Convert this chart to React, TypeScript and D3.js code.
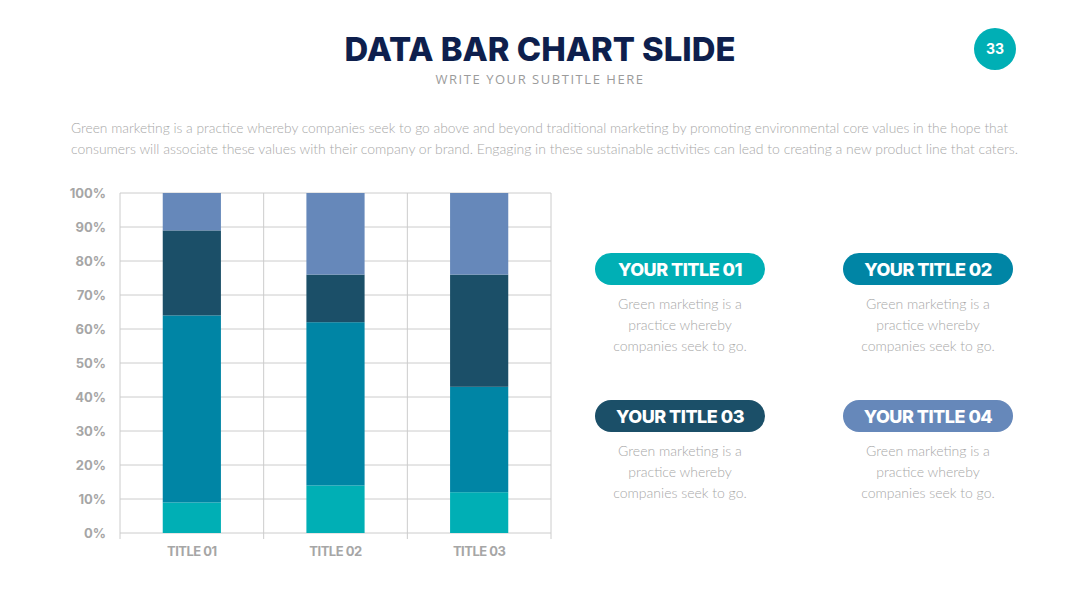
import React from "react";
import * as d3 from "d3";

const categories = ["TITLE 01", "TITLE 02", "TITLE 03"];
const seriesNames = ["YOUR TITLE 01", "YOUR TITLE 02", "YOUR TITLE 03", "YOUR TITLE 04"];
const series1 = [9, 14, 12];
const series2 = [55, 48, 31];
const series3 = [25, 14, 33];
const series4 = [11, 24, 24];
const yTicks = [0, 10, 20, 30, 40, 50, 60, 70, 80, 90, 100];
const colors = ["#00AFB5", "#0085A5", "#1B4F68", "#6688BA"];
const descLines = ["Green marketing is a", "practice whereby", "companies seek to go."];
const paragraph = [
  "Green marketing is a practice whereby companies seek to go above and beyond traditional marketing by promoting environmental core values in the hope that",
  "consumers will associate these values with their company or brand. Engaging in these sustainable activities can lead to creating a new product line that caters.",
];

export default function App() {
  const W = 1080, H = 608;
  const left = 120, right = 551, top = 193, bottom = 533;
  const x = d3.scaleBand<string>().domain(categories).range([left, right]).padding(0);
  const y = d3.scaleLinear().domain([0, 100]).range([bottom, top]);
  const rows = categories.map((c, i) => ({
    cat: c,
    s0: series1[i],
    s1: series2[i],
    s2: series3[i],
    s3: series4[i],
  }));
  const stack = d3.stack<any>().keys(["s0", "s1", "s2", "s3"]);
  const stacked = stack(rows);
  const barW = x.bandwidth() * 0.405;
  const boundaries = [left, ...categories.map((c) => (x(c) as number) + x.bandwidth())];

  const pills = [
    { cx: 680, cy: 269 },
    { cx: 928, cy: 269 },
    { cx: 680, cy: 416 },
    { cx: 928, cy: 416 },
  ];

  return (
    <svg width={W} height={H} style={{ position: "absolute", left: 0, top: 0, background: "#fff" }}>
      <rect width={W} height={H} fill="#fff" />
      {/* Title */}
      <text x={540} y={61} textAnchor="middle" fontFamily="Inter, 'Open Sans', sans-serif" fontWeight={800}
        fontSize={33} fill="#0E1F4D" textLength={391} lengthAdjust="spacingAndGlyphs">DATA BAR CHART SLIDE</text>
      <text x={540} y={84} textAnchor="middle" fontFamily="'Open Sans', Lato, sans-serif" fontSize={13}
        fill="#9B9B9B" letterSpacing={1.5} textLength={209} lengthAdjust="spacing">WRITE YOUR SUBTITLE HERE</text>
      <circle cx={995} cy={49} r={21} fill="#00AFB5" />
      <text x={995} y={54} textAnchor="middle" fontFamily="Inter, sans-serif" fontWeight={700} fontSize={14} fill="#fff">33</text>

      {/* Paragraph */}
      {paragraph.map((t, i) => (
        <text key={i} x={71} y={133 + i * 21} fontFamily="Lato, 'Open Sans', sans-serif" fontWeight={300}
          fontSize={13.5} fill="#A8A8A8" textLength={i === 0 ? 937 : 947} lengthAdjust="spacingAndGlyphs">{t}</text>
      ))}

      {/* Grid */}
      {yTicks.map((t) => (
        <line key={t} x1={left} x2={right} y1={y(t)} y2={y(t)} stroke="#CCCCCC" strokeWidth={1} />
      ))}
      {boundaries.map((b, i) => (
        <line key={i} x1={b} x2={b} y1={top} y2={bottom + 6} stroke="#CCCCCC" strokeWidth={1} />
      ))}
      {yTicks.map((t) => (
        <text key={t} x={106} y={y(t) + 4.5} textAnchor="end" fontFamily="Inter, sans-serif" fontWeight={700}
          fontSize={13} fill="#A6A6A6">{t + "%"}</text>
      ))}

      {/* Bars */}
      {stacked.map((layer, li) =>
        layer.map((d, i) => {
          const cx = (x(categories[i]) as number) + x.bandwidth() / 2;
          return (
            <rect key={li + "-" + i} x={cx - barW / 2} y={y(d[1])} width={barW}
              height={y(d[0]) - y(d[1])} fill={colors[li]} />
          );
        })
      )}
      {categories.map((c) => (
        <text key={c} x={(x(c) as number) + x.bandwidth() / 2} y={556} textAnchor="middle"
          fontFamily="Inter, sans-serif" fontWeight={700} fontSize={13} fill="#A6A6A6" letterSpacing={-0.5}>{c}</text>
      ))}

      {/* Legend pills */}
      {pills.map((p, i) => (
        <g key={i}>
          <rect x={p.cx - 85} y={p.cy - 16} width={170} height={32} rx={16} fill={colors[i]} />
          <text x={p.cx} y={p.cy + 6.5} textAnchor="middle" fontFamily="Inter, sans-serif" fontWeight={800}
            fontSize={18} fill="#fff" letterSpacing={-0.5}>{seriesNames[i]}</text>
          {descLines.map((l, j) => (
            <text key={j} x={p.cx} y={p.cy + 40 + j * 21} textAnchor="middle" fontFamily="Lato, sans-serif"
              fontWeight={300} fontSize={14} fill="#A8A8A8">{l}</text>
          ))}
        </g>
      ))}
    </svg>
  );
}
